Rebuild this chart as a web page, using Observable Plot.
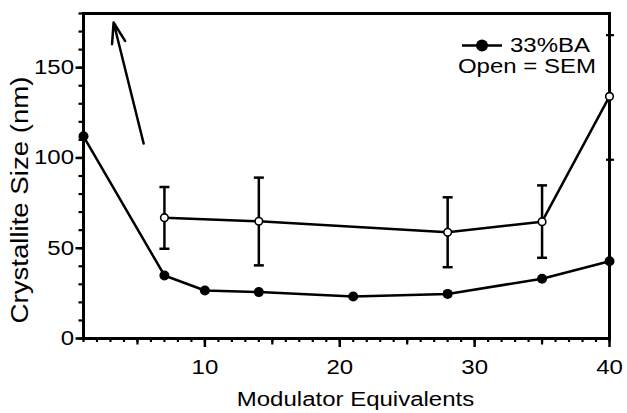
<!DOCTYPE html>
<html>
<head>
<meta charset="utf-8">
<script src="https://cdn.jsdelivr.net/npm/d3@7"></script>
<script src="https://cdn.jsdelivr.net/npm/@observablehq/plot@0.6"></script>
<style>
  html, body { margin: 0; padding: 0; background: #fff; }
</style>
</head>
<body>
<div id="chart"></div>
<script>
// Crystallite size (XRD, filled) vs. modulator equivalents, 33% BA
const equivalents = [1, 7, 10, 14, 21, 28, 35, 40];
const sizeXRD     = [112, 34.9, 26.6, 25.7, 23.3, 24.7, 33.1, 42.8];

// SEM sizes (open) with spread bars
const semEquivalents = [7, 14, 28, 35, 40];
const sizeSEM        = [66.9, 64.9, 58.8, 64.7, 134.1];
const semLow         = [49.7, 40.5, 39.5, 44.7, null];
const semHigh        = [83.9, 89.1, 78.2, 84.8, null];

// trend arrow (data coordinates: equivalents, size)
const arrowFrom = [5.46, 108];
const arrowTo   = [3.23, 175];

// axis ticks
const xMajorTicks  = [10, 20, 30, 40];
const xMediumTicks = [5, 15, 25, 35];
const xMinorTicks  = d3.range(1, 41);
const yMajorTicks  = [0, 50, 100, 150];
const yMinorTicks  = d3.range(0, 181, 10);
const yRightTicks  = [99, 168];

const legendLabels = ["33%BA", "Open = SEM"];

const xrd = equivalents.map((x, i) => ({x, y: sizeXRD[i]}));
const sem = semEquivalents.map((x, i) => ({x, y: sizeSEM[i], lo: semLow[i], hi: semHigh[i]}));

// short horizontal bar used for the bar caps
const capSymbol = {
  draw(context, size) {
    const r = Math.sqrt(size / Math.PI);
    context.moveTo(-r, 0);
    context.lineTo(r, 0);
  }
};

// legend drawn in the top-right corner of the frame
function legend(index, scales, values, dims) {
  const right = dims.width - dims.marginRight;
  const top = dims.marginTop;
  const g = d3.create("svg:g");
  g.append("line")
    .attr("x1", right - 147).attr("x2", right - 107)
    .attr("y1", top + 32.5).attr("y2", top + 32.5)
    .attr("stroke", "black").attr("stroke-width", 2.5);
  g.append("circle")
    .attr("cx", right - 127).attr("cy", top + 32.5).attr("r", 6)
    .attr("fill", "black");
  g.append("text")
    .attr("x", right - 99).attr("y", top + 38.5)
    .attr("text-anchor", "start")
    .attr("font-size", 20).attr("fill", "black")
    .text(legendLabels[0]);
  g.append("text")
    .attr("x", right - 82).attr("y", top + 60)
    .attr("text-anchor", "middle")
    .attr("font-size", 20).attr("fill", "black")
    .text(legendLabels[1]);
  return g.node();
}

const chart = Plot.plot({
  width: 627,
  height: 413,
  marginLeft: 83,
  marginRight: 18,
  marginTop: 13,
  marginBottom: 75,
  style: {fontFamily: "'Liberation Sans', Arial, sans-serif", fontSize: "20px", color: "black", background: "white"},
  x: {domain: [1, 40]},
  y: {domain: [0, 180]},
  marks: [
    // minor / medium / major ticks
    Plot.axisX({ticks: xMinorTicks, tickSize: 4, tickFormat: () => "", label: null, strokeWidth: 2.2}),
    Plot.axisX({ticks: xMediumTicks, tickSize: 6.5, tickFormat: () => "", label: null, strokeWidth: 2.2}),
    Plot.axisX({ticks: xMajorTicks, tickSize: 9, tickPadding: 12, tickFormat: d3.format("d"), label: null, fontSize: 20, strokeWidth: 2.5}),
    Plot.axisY({ticks: yMinorTicks, tickSize: 4.5, tickFormat: () => "", label: null, strokeWidth: 2.2}),
    Plot.axisY({ticks: yMajorTicks, tickSize: 7.5, tickPadding: 2, tickFormat: d3.format("d"), label: null, fontSize: 20, strokeWidth: 2.5}),
    Plot.axisY({ticks: yRightTicks, anchor: "right", tickSize: 8, dx: -4, tickFormat: () => "", label: null, strokeWidth: 2.2}),
    Plot.frame({stroke: "black", strokeWidth: 3}),

    // axis titles
    Plot.text(["Modulator Equivalents"], {frameAnchor: "bottom", dx: 9, dy: 61, lineAnchor: "middle", fontSize: 20}),
    Plot.text(["Crystallite Size (nm)"], {frameAnchor: "left", rotate: -90, dx: -63, dy: 24, lineAnchor: "middle", fontSize: 23}),

    // trend arrow
    Plot.arrow([{x1: arrowFrom[0], y1: arrowFrom[1], x2: arrowTo[0], y2: arrowTo[1]}],
      {x1: "x1", y1: "y1", x2: "x2", y2: "y2", stroke: "black", strokeWidth: 2.5, headLength: 13, headAngle: 36}),

    // series lines
    Plot.line(xrd, {x: "x", y: "y", stroke: "black", strokeWidth: 2.5}),
    Plot.line(sem, {x: "x", y: "y", stroke: "black", strokeWidth: 2.5}),

    // bars with caps
    Plot.ruleX(sem, {x: "x", y1: "lo", y2: "hi", stroke: "black", strokeWidth: 2.5}),
    Plot.dot(sem, {x: "x", y: "lo", symbol: capSymbol, r: 5, stroke: "black", strokeWidth: 2.5, fill: "none"}),
    Plot.dot(sem, {x: "x", y: "hi", symbol: capSymbol, r: 5, stroke: "black", strokeWidth: 2.5, fill: "none"}),

    // points
    Plot.dot(xrd, {x: "x", y: "y", r: 5, fill: "black", stroke: "none"}),
    Plot.dot(sem, {x: "x", y: "y", r: 3.8, fill: "white", stroke: "black", strokeWidth: 1.6}),

    legend
  ]
});

document.getElementById("chart").appendChild(chart);

// Widen every label along its writing direction (extended sans look)
const widen = 1.2;
chart.querySelectorAll("text").forEach((t) => {
  if (!t.textContent) return;
  const len = t.getComputedTextLength() * widen;
  t.setAttribute("textLength", len);
  t.setAttribute("lengthAdjust", "spacingAndGlyphs");
  // rotated labels: anchor explicitly from the start, centred on their position
  if ((t.getAttribute("transform") || "").includes("rotate")) {
    const x0 = +(t.getAttribute("x") || 0);
    t.setAttribute("text-anchor", "start");
    t.setAttribute("x", x0 - len / 2);
  }
});
</script>
</body>
</html>
